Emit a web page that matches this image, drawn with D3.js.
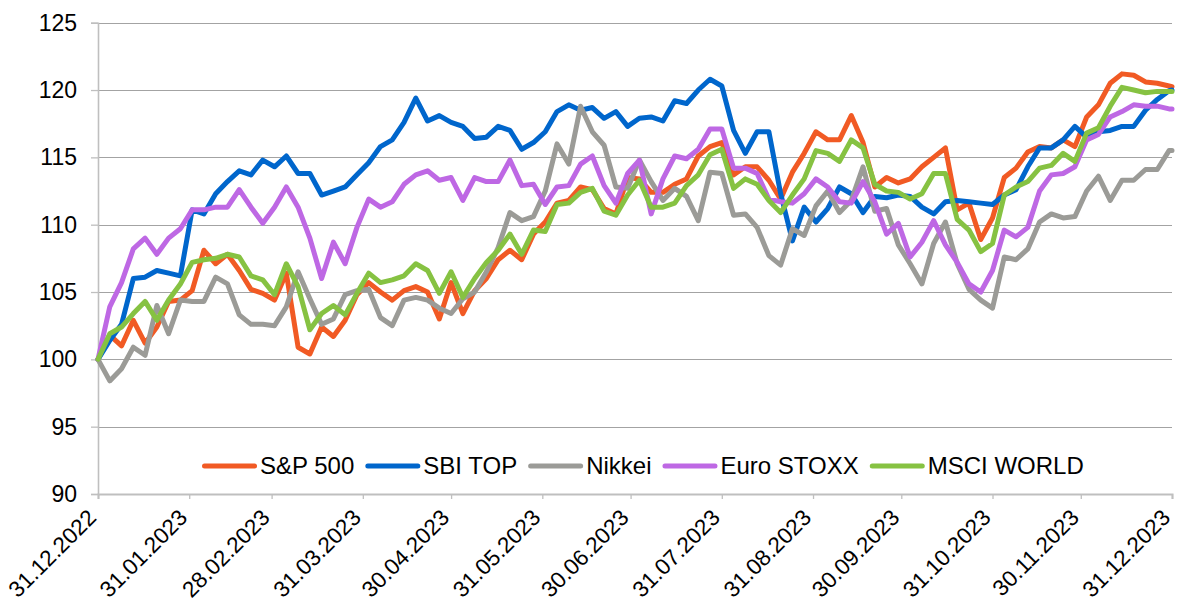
<!DOCTYPE html>
<html><head><meta charset="utf-8">
<script src="https://cdn.jsdelivr.net/npm/d3@7"></script>
<style>
html,body{margin:0;padding:0;background:#fff;}
svg{display:block;font-family:"Liberation Sans",Arial,sans-serif;}
</style></head><body>
<svg id="chart" width="1177" height="606"></svg>
<script>
// ---------- DATA ----------
const startLabel = "31.12.2022";
// sampling grid: days after 31.12.2022 at which values were read
const sampleDays = d3.range(0, 365, 4).concat([365]);

const tickLabels = ["31.12.2022","31.01.2023","28.02.2023","31.03.2023","30.04.2023","31.05.2023",
  "30.06.2023","31.07.2023","31.08.2023","30.09.2023","31.10.2023","30.11.2023","31.12.2023"];
const yTicks = [90, 95, 100, 105, 110, 115, 120, 125];

const seriesNames  = ["S&P 500", "SBI TOP", "Nikkei", "Euro STOXX", "MSCI WORLD"];
const seriesColors = ["#F15A24", "#0066CC", "#9B9B97", "#BE68E4", "#86C242"];

const sp500 = [
  100.0,101.8,101.0,102.9,101.2,102.4,104.3,104.4,105.1,108.1,
  107.1,107.8,106.6,105.2,104.9,104.4,106.4,100.9,100.4,102.4,
  101.7,102.9,104.8,105.7,105.0,104.4,105.1,105.4,105.0,103.0,
  105.7,103.4,105.1,106.0,107.4,108.1,107.4,109.3,110.2,111.6,
  111.8,112.8,112.6,111.2,110.8,113.5,113.4,112.4,112.4,113.0,
  113.4,115.1,115.8,116.1,113.7,114.3,114.3,113.3,111.9,113.9,
  115.3,116.9,116.3,116.3,118.1,116.1,112.8,113.5,113.1,113.4,
  114.3,115.0,115.7,111.1,111.6,108.9,110.5,113.5,114.2,115.4,
  115.8,115.7,116.3,115.8,118.0,118.9,120.5,121.2,121.1,120.6,
  120.5,120.3,120.25];
const sbiTop = [
  100.0,101.4,102.6,106.0,106.1,106.6,106.4,106.2,111.1,110.8,
  112.3,113.2,114.0,113.7,114.8,114.3,115.1,113.8,113.8,112.2,
  112.5,112.8,113.7,114.6,115.8,116.3,117.6,119.4,117.7,118.1,
  117.6,117.3,116.4,116.5,117.3,117.0,115.6,116.1,116.9,118.4,
  118.9,118.5,118.7,117.9,118.4,117.3,117.9,118.0,117.7,119.2,
  119.0,120.0,120.8,120.3,117.0,115.3,116.9,116.9,112.3,108.8,
  111.3,110.2,111.2,112.8,112.3,110.9,112.1,112.0,112.2,112.1,
  111.3,110.8,111.7,111.8,111.7,111.6,111.5,112.2,112.6,114.3,
  115.7,115.7,116.3,117.3,116.5,116.9,117.0,117.3,117.3,118.5,
  119.3,119.95,120.0];
const nikkei = [
  100.0,98.4,99.3,100.9,100.3,104.0,101.9,104.4,104.3,104.3,
  106.1,105.6,103.3,102.6,102.6,102.5,103.9,106.5,104.5,102.6,
  103.0,104.8,105.1,105.2,103.1,102.5,104.4,104.6,104.4,103.8,
  103.4,104.5,105.0,106.5,108.3,110.9,110.3,110.6,112.5,116.0,
  114.5,118.8,116.9,115.9,112.8,112.7,114.8,113.2,111.8,112.7,
  112.1,110.3,113.9,113.8,110.7,110.8,109.8,107.7,107.0,109.7,
  109.2,111.4,112.5,110.9,111.8,114.3,111.0,111.2,108.5,107.1,
  105.6,108.6,110.2,107.1,105.2,104.4,103.8,107.6,107.4,108.2,
  110.2,110.8,110.5,110.6,112.5,113.6,111.8,113.3,113.3,114.1,
  114.1,115.5,115.5];
const euroStoxx = [
  100.0,103.9,105.7,108.2,109.0,107.8,109.0,109.7,111.1,111.1,
  111.3,111.3,112.6,111.3,110.1,111.3,112.8,111.3,109.0,106.0,
  108.7,107.1,109.8,111.9,111.3,111.7,113.0,113.7,114.0,113.3,
  113.5,111.8,113.5,113.2,113.2,114.8,112.9,113.0,111.5,112.8,
  112.9,114.5,115.1,112.9,111.6,113.8,114.8,110.8,113.4,115.1,
  114.9,115.6,117.1,117.1,114.2,114.2,113.8,111.9,111.7,111.6,
  112.3,113.4,112.8,111.7,111.6,113.2,111.7,109.3,110.1,107.6,
  108.7,110.3,108.5,107.2,105.6,105.0,106.6,109.6,109.1,109.8,
  112.5,113.7,113.8,114.3,116.3,116.7,118.0,118.4,118.9,118.8,
  118.8,118.6,118.6];
const msciWorld = [
  100.0,101.9,102.4,103.4,104.3,102.9,104.4,105.6,107.2,107.4,
  107.5,107.8,107.6,106.2,105.9,104.8,107.1,105.4,102.2,103.4,
  104.0,103.3,104.9,106.4,105.7,105.9,106.2,107.1,106.6,104.9,
  106.5,104.6,106.0,107.2,108.1,109.3,107.8,109.6,109.5,111.5,
  111.6,112.4,112.7,111.0,110.7,112.2,113.3,111.3,111.3,111.6,
  112.9,113.7,115.2,115.6,112.7,113.4,113.0,111.8,110.9,112.2,
  113.4,115.5,115.3,114.7,116.3,115.7,113.0,112.5,112.4,111.9,
  112.3,113.8,113.8,110.4,109.6,108.0,108.6,112.2,112.8,113.2,
  114.2,114.4,115.3,114.7,116.8,117.2,118.8,120.2,120.0,119.8,
  119.9,119.9,119.9];

const seriesValues = [sp500, sbiTop, nikkei, euroStoxx, msciWorld];

// ---------- CHART ----------
const parse = d3.timeParse("%d.%m.%Y");
const fmt = d3.timeFormat("%d.%m.%Y");
const start = parse(startLabel);
const dates = sampleDays.map(d => d3.timeDay.offset(start, d));
const tickDates = tickLabels.map(parse);

const svg = d3.select("#chart");
const x = d3.scaleTime().domain([tickDates[0], tickDates[tickDates.length-1]]).range([98, 1172]);
const y = d3.scaleLinear().domain([90, 125]).range([494, 22.7]);

// gridlines
svg.append("g").selectAll("line").data(yTicks.filter(v => v > 90)).join("line")
  .attr("x1", x.range()[0]).attr("x2", x.range()[1])
  .attr("y1", d => Math.round(y(d)) + 0.5).attr("y2", d => Math.round(y(d)) + 0.5)
  .attr("stroke", "#a3a3a3").attr("stroke-width", 1);

// y axis
const yAxis = svg.append("g").attr("transform", `translate(${x.range()[0]},0)`)
  .call(d3.axisLeft(y).tickValues(yTicks).tickSize(7).tickPadding(14).tickFormat(d3.format("d")));
yAxis.select(".domain").attr("stroke", "#bfbfbf").attr("stroke-width", 1.6);
yAxis.selectAll(".tick line").attr("stroke", "#bfbfbf").attr("stroke-width", 1.3);
yAxis.selectAll(".tick text").attr("font-size", 23).attr("font-family", "Liberation Sans, Arial, sans-serif").attr("fill", "#000");

// x axis
const xAxis = svg.append("g").attr("transform", `translate(0,${y(90)})`)
  .call(d3.axisBottom(x).tickValues(tickDates).tickSize(5).tickFormat(fmt));
xAxis.select(".domain").attr("stroke", "#bfbfbf").attr("stroke-width", 2);
xAxis.selectAll(".tick line").attr("stroke", "#bfbfbf").attr("stroke-width", 1.3);
xAxis.selectAll(".tick text")
  .attr("font-size", 22.5).attr("font-family", "Liberation Sans, Arial, sans-serif").attr("fill", "#000")
  .attr("text-anchor", "end").attr("dy", null).attr("y", null)
  .attr("transform", "translate(-1,25) rotate(-45)");

// lines
const line = d3.line().x((d, i) => x(dates[i])).y(d => y(d)).curve(d3.curveLinear);
svg.append("g").selectAll("path").data(seriesValues).join("path")
  .attr("d", d => line(d))
  .attr("fill", "none")
  .attr("stroke", (d, i) => seriesColors[i])
  .attr("stroke-width", 5)
  .attr("stroke-linejoin", "round")
  .attr("stroke-linecap", "round");

// legend
const legend = svg.append("g").attr("font-size", 24).attr("font-family", "Liberation Sans, Arial, sans-serif");
let lx = 202;
const ly = 466;
seriesNames.forEach((name, i) => {
  legend.append("line").attr("x1", lx + 2.5).attr("x2", lx + 52.5).attr("y1", ly).attr("y2", ly)
    .attr("stroke", seriesColors[i]).attr("stroke-width", 5).attr("stroke-linecap", "round");
  const t = legend.append("text").attr("x", lx + 58).attr("y", ly).attr("dy", "0.35em").attr("fill", "#000").text(name);
  lx = lx + 58 + t.node().getComputedTextLength() + 11;
});
</script>
</body></html>
